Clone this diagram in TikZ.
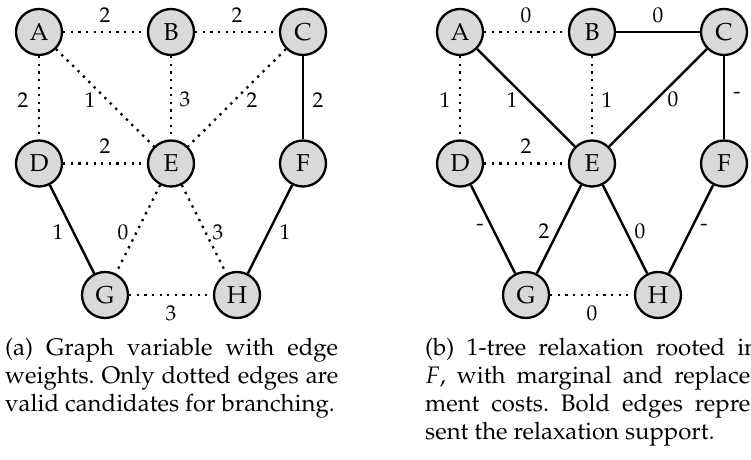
\documentclass[tikz,border=0pt]{standalone}
\usepackage[T1]{fontenc}
\usepackage{mathpazo}
\newcommand{\fullline}[1]{\hbox to 333bp{\spaceskip=0.25em plus 1fil minus 0.1em\relax #1}}
\begin{document}
\frenchspacing
\begin{tikzpicture}[x=1bp,y=-1bp,
  vtx/.style={circle, draw, line width=2.3bp, fill=black!15, minimum size=46bp, inner sep=0pt, font=\fontsize{24.5}{29}\selectfont},
  soledge/.style={line width=2.4bp},
  dotedge/.style={line width=2.3bp, dash pattern=on 2.3bp off 5.3bp},
  lbl/.style={font=\fontsize{21.5}{25}\selectfont, inner sep=0pt},
  captext/.style={anchor=north west, inner sep=0pt, align=left, font=\fontsize{24}{28}\selectfont}]
\useasboundingbox (0,0) rectangle (751,460);
\clip (0,0) rectangle (751,460);
% left graph
\node[vtx] (A1) at (39,32) {A};
\node[vtx] (B1) at (171,32) {B};
\node[vtx] (C1) at (303,32) {C};
\node[vtx] (D1) at (39,163.5) {D};
\node[vtx] (E1) at (171,163.5) {E};
\node[vtx] (F1) at (303,163.5) {F};
\node[vtx] (G1) at (105,295) {G};
\node[vtx] (H1) at (237,295) {H};
\draw[dotedge] (A1) -- node[lbl, shift={(0,-17)}] {2} (B1);
\draw[dotedge] (B1) -- node[lbl, shift={(0,-17)}] {2} (C1);
\draw[dotedge] (A1) -- node[lbl, shift={(-16,2)}] {2} (D1);
\draw[dotedge] (A1) -- node[lbl, shift={(-15,2)}] {1} (E1);
\draw[dotedge] (B1) -- node[lbl, shift={(14,2)}] {3} (E1);
\draw[dotedge] (C1) -- node[lbl, shift={(15,2)}] {2} (E1);
\draw[soledge] (C1) -- node[lbl, shift={(15,2)}] {2} (F1);
\draw[dotedge] (D1) -- node[lbl, shift={(0,-17)}] {2} (E1);
\draw[soledge] (D1) -- node[lbl, shift={(-14,3)}] {1} (G1);
\draw[dotedge] (E1) -- node[lbl, shift={(-15,3)}] {0} (G1);
\draw[dotedge] (E1) -- node[lbl, shift={(14,3)}] {3} (H1);
\draw[soledge] (F1) -- node[lbl, shift={(15,3)}] {1} (H1);
\draw[dotedge] (G1) -- node[lbl, shift={(0,18)}] {3} (H1);
% right graph
\node[vtx] (A2) at (460,32) {A};
\node[vtx] (B2) at (592,32) {B};
\node[vtx] (C2) at (724,32) {C};
\node[vtx] (D2) at (460,163.5) {D};
\node[vtx] (E2) at (592,163.5) {E};
\node[vtx] (F2) at (724,163.5) {F};
\node[vtx] (G2) at (526,295) {G};
\node[vtx] (H2) at (658,295) {H};
\draw[dotedge] (A2) -- node[lbl, shift={(0,-17)}] {0} (B2);
\draw[soledge] (B2) -- node[lbl, shift={(0,-17)}] {0} (C2);
\draw[dotedge] (A2) -- node[lbl, shift={(-15,2)}] {1} (D2);
\draw[soledge] (A2) -- node[lbl, shift={(-14,2)}] {1} (E2);
\draw[dotedge] (B2) -- node[lbl, shift={(15,2)}] {1} (E2);
\draw[soledge] (C2) -- node[lbl, shift={(15,2)}] {0} (E2);
\draw[soledge] (C2) -- node[lbl, shift={(13,-2)}] {-} (F2);
\draw[dotedge] (D2) -- node[lbl, shift={(0,-17)}] {2} (E2);
\draw[soledge] (D2) -- node[lbl, shift={(-13,-2)}] {-} (G2);
\draw[soledge] (E2) -- node[lbl, shift={(-15,2)}] {2} (G2);
\draw[soledge] (E2) -- node[lbl, shift={(15,2)}] {0} (H2);
\draw[soledge] (F2) -- node[lbl, shift={(13,-2)}] {-} (H2);
\draw[dotedge] (G2) -- node[lbl, shift={(0,18)}] {0} (H2);
% captions
\node[captext] (capa) at (5,338.5) {\fullline{(a) Graph variable with edge}\\\fullline{weights. Only dotted edges are}\\valid candidates for branching.};
\node[captext] (capb) at (425,338.5) {\fullline{(b) 1-tree relaxation rooted in}\\\fullline{$F$, with marginal and replace-}\\\fullline{ment costs. Bold edges repre-}\\sent the relaxation support.};
\end{tikzpicture}
\end{document}
